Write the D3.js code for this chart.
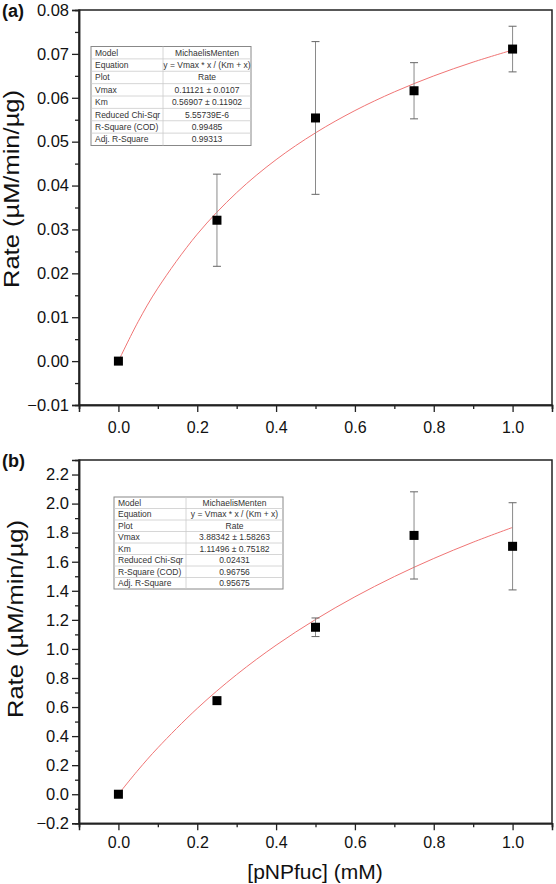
<!DOCTYPE html>
<html>
<head>
<meta charset="utf-8">
<script src="https://cdn.jsdelivr.net/npm/d3@7"></script>
<style>
  html, body { margin: 0; padding: 0; background: #fff; }
  svg { display: block; }
  text { font-family: Arial, "Liberation Sans", sans-serif; }
</style>
</head>
<body>
<svg id="chart" width="556" height="884"></svg>
<script>
// ---------- data ----------
const concA = [0, 0.25, 0.5, 0.75, 1.0];
const rateA = [0.0, 0.0321, 0.0554, 0.0616, 0.0711];
const errA  = [0.0, 0.0105, 0.0174, 0.0064, 0.0052];
const fitXA = [0, 0.05, 0.1, 0.2, 0.3, 0.4, 0.5, 0.6, 0.7, 0.8, 0.9, 1.0];
const fitYA = [0, 0.00898, 0.01662, 0.02892, 0.03839, 0.04590, 0.05201, 0.05708, 0.06134, 0.06498, 0.06813, 0.07088];
const yMajorA = [-0.01, 0, 0.01, 0.02, 0.03, 0.04, 0.05, 0.06, 0.07, 0.08];
const yMinorA = [-0.005, 0.005, 0.015, 0.025, 0.035, 0.045, 0.055, 0.065, 0.075];
const tableA = [
  ["Model", "MichaelisMenten"],
  ["Equation", "y = Vmax * x / (Km + x)"],
  ["Plot", "Rate"],
  ["Vmax", "0.11121 \u00b1 0.0107"],
  ["Km", "0.56907 \u00b1 0.11902"],
  ["Reduced Chi-Sqr", "5.55739E-6"],
  ["R-Square (COD)", "0.99485"],
  ["Adj. R-Square", "0.99313"]
];

const concB = [0, 0.25, 0.5, 0.75, 1.0];
const rateB = [0.0, 0.644, 1.149, 1.781, 1.706];
const errB  = [0.0, 0.0, 0.064, 0.30, 0.30];
const fitXB = [0, 0.05, 0.1, 0.2, 0.3, 0.4, 0.5, 0.6, 0.7, 0.8, 0.9, 1.0];
const fitYB = [0, 0.1667, 0.3196, 0.5907, 0.8234, 1.0254, 1.2023, 1.3587, 1.4978, 1.6223, 1.7346, 1.8362];
const yMajorB = [-0.2, 0, 0.2, 0.4, 0.6, 0.8, 1.0, 1.2, 1.4, 1.6, 1.8, 2.0, 2.2];
const yMinorB = [-0.1, 0.1, 0.3, 0.5, 0.7, 0.9, 1.1, 1.3, 1.5, 1.7, 1.9, 2.1];
const tableB = [
  ["Model", "MichaelisMenten"],
  ["Equation", "y = Vmax * x / (Km + x)"],
  ["Plot", "Rate"],
  ["Vmax", "3.88342 \u00b1 1.58263"],
  ["Km", "1.11496 \u00b1 0.75182"],
  ["Reduced Chi-Sqr", "0.02431"],
  ["R-Square (COD)", "0.96756"],
  ["Adj. R-Square", "0.95675"]
];

const xMajor = [0, 0.2, 0.4, 0.6, 0.8, 1.0];
const xMinor = [-0.1, 0.1, 0.3, 0.5, 0.7, 0.9, 1.1];
const yTitle = "Rate (\u00b5M/min/\u00b5g)";
const xTitle = "[pNPfuc] (mM)";

// ---------- drawing ----------
const svg = d3.select("#chart");
svg.append("rect").attr("width", 556).attr("height", 884).attr("fill", "#fff");

function panel(o) {
  const x = d3.scaleLinear().domain([-0.1, 1.1]).range([o.left, o.right]);
  const y = d3.scaleLinear().domain(o.yDomain).range([o.bottom, o.top]);
  const g = svg.append("g");

  // frame
  g.append("rect")
    .attr("x", o.left).attr("y", o.top)
    .attr("width", o.right - o.left).attr("height", o.bottom - o.top)
    .attr("fill", "none").attr("stroke", "#222").attr("stroke-width", 1.5);

  // y axis
  const yAx = g.append("g").attr("transform", `translate(${o.left},0)`)
    .call(d3.axisLeft(y).tickValues(o.yMajor).tickSize(7).tickFormat(d3.format(o.yFmt)));
  g.append("g").attr("transform", `translate(${o.left},0)`)
    .call(d3.axisLeft(y).tickValues(o.yMinor).tickSize(4).tickFormat(""));
  // x axis
  const xAx = g.append("g").attr("transform", `translate(0,${o.bottom})`)
    .call(d3.axisBottom(x).tickValues(xMajor).tickSize(7).tickFormat(d3.format(".1f")));
  g.append("g").attr("transform", `translate(0,${o.bottom})`)
    .call(d3.axisBottom(x).tickValues(xMinor).tickSize(4).tickFormat(""));

  g.selectAll(".domain").attr("stroke", "#222").attr("stroke-width", 1.5);
  g.selectAll(".tick line").attr("stroke", "#222").attr("stroke-width", 1.3);
  yAx.selectAll("text").attr("font-size", 16.5).attr("fill", "#111").attr("x", -10)
    .attr("font-family", "Arial, 'Liberation Sans', sans-serif");
  xAx.selectAll("text").attr("font-size", 16).attr("fill", "#111").attr("y", o.xLabelDy)
    .attr("font-family", "Arial, 'Liberation Sans', sans-serif");

  // y title
  g.append("text")
    .attr("transform", `translate(${o.yTitleX},${o.yTitleY}) rotate(-90)`)
    .attr("text-anchor", "middle").attr("font-size", 22).attr("fill", "#111")
    .attr("textLength", 198).attr("lengthAdjust", "spacingAndGlyphs")
    .text(yTitle);

  // panel label
  g.append("text").attr("x", 2).attr("y", o.labelY)
    .attr("font-size", 18).attr("font-weight", "bold").attr("fill", "#111")
    .text(o.label);

  // table
  const t = o.table;
  const rowH = (t.bottom - t.top) / o.tableRows.length;
  const tg = g.append("g");
  tg.append("rect").attr("x", t.left).attr("y", t.top)
    .attr("width", t.right - t.left).attr("height", t.bottom - t.top)
    .attr("fill", "#fff").attr("stroke", "#888").attr("stroke-width", 1);
  o.tableRows.forEach((r, i) => {
    if (i > 0) tg.append("line").attr("x1", t.left).attr("x2", t.right)
      .attr("y1", t.top + i * rowH).attr("y2", t.top + i * rowH)
      .attr("stroke", "#ccc").attr("stroke-width", 0.8);
    tg.append("text").attr("x", t.left + 4).attr("y", t.top + i * rowH + rowH / 2)
      .attr("dy", "0.35em").attr("font-size", t.fs).attr("fill", "#333").text(r[0]);
    tg.append("text").attr("x", (t.mid + t.right) / 2).attr("y", t.top + i * rowH + rowH / 2)
      .attr("dy", "0.35em").attr("text-anchor", "middle").attr("font-size", t.fs).attr("fill", "#333").text(r[1]);
  });
  tg.append("line").attr("x1", t.mid).attr("x2", t.mid).attr("y1", t.top).attr("y2", t.bottom)
    .attr("stroke", "#ccc").attr("stroke-width", 0.8);

  // fit curve
  const line = d3.line().x(d => x(d[0])).y(d => y(d[1])).curve(d3.curveCatmullRom.alpha(0.5));
  g.append("path").datum(o.fitX.map((v, i) => [v, o.fitY[i]]))
    .attr("d", line).attr("fill", "none").attr("stroke", "#f07575").attr("stroke-width", 1);

  // error bars
  const pts = o.xs.map((v, i) => ({ x: v, y: o.ys[i], e: o.es[i] }));
  const eb = g.append("g").selectAll("g").data(pts.filter(d => d.e > 0)).join("g");
  eb.append("line").attr("x1", d => x(d.x)).attr("x2", d => x(d.x))
    .attr("y1", d => y(d.y - d.e)).attr("y2", d => y(d.y + d.e))
    .attr("stroke", "#8a8a8a").attr("stroke-width", 1);
  [-1, 1].forEach(s => {
    eb.append("line").attr("x1", d => x(d.x) - 4).attr("x2", d => x(d.x) + 4)
      .attr("y1", d => y(d.y + s * d.e)).attr("y2", d => y(d.y + s * d.e))
      .attr("stroke", "#666").attr("stroke-width", 1);
  });

  // markers
  g.append("g").selectAll("rect").data(pts).join("rect")
    .attr("x", d => x(d.x) - 4.5).attr("y", d => y(d.y) - 4.5)
    .attr("width", 9).attr("height", 9).attr("fill", "#000");
}

panel({
  left: 79, right: 552, top: 10, bottom: 405, yDomain: [-0.01, 0.08],
  yMajor: yMajorA, yMinor: yMinorA, yFmt: ".2f", xLabelDy: 17,
  yTitleX: 19, yTitleY: 189, label: "(a)", labelY: 17,
  table: { left: 91, right: 251, mid: 163, top: 46.5, bottom: 145.5, fs: 8.5 },
  tableRows: tableA,
  xs: concA, ys: rateA, es: errA, fitX: fitXA, fitY: fitYA
});

panel({
  left: 79, right: 552, top: 460, bottom: 823.3, yDomain: [-0.2, 2.3],
  yMajor: yMajorB, yMinor: yMinorB, yFmt: ".1f", xLabelDy: 13,
  yTitleX: 23, yTitleY: 619, label: "(b)", labelY: 467,
  table: { left: 114, right: 283, mid: 186, top: 497, bottom: 589, fs: 8.5 },
  tableRows: tableB,
  xs: concB, ys: rateB, es: errB, fitX: fitXB, fitY: fitYB
});

// x title
svg.append("text").attr("x", 315).attr("y", 879)
  .attr("text-anchor", "middle").attr("font-size", 21).attr("fill", "#111")
  .text(xTitle);
</script>
</body>
</html>
